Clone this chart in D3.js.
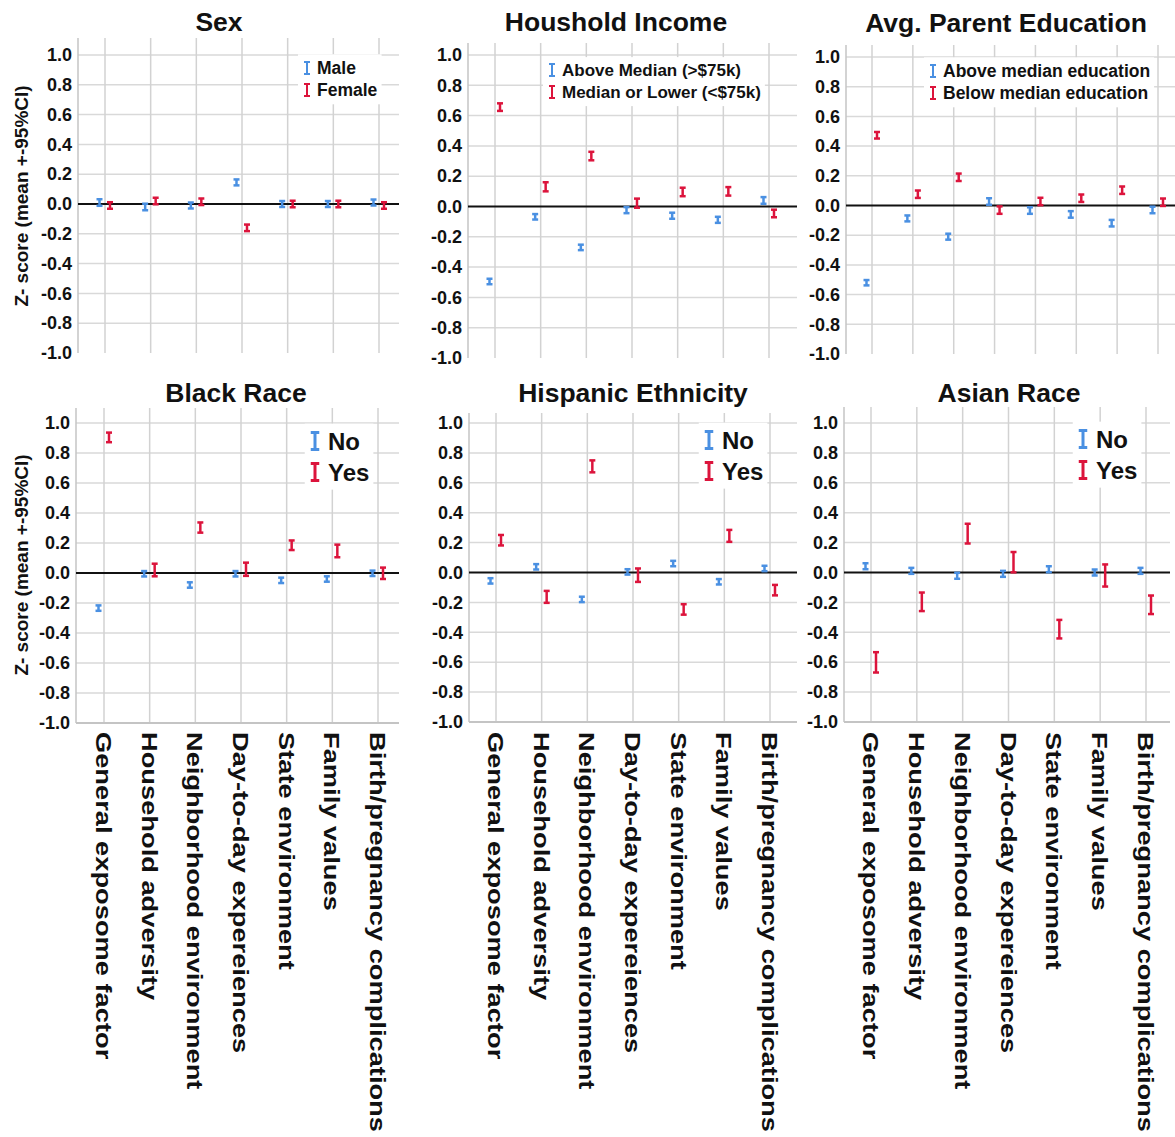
<!DOCTYPE html>
<html>
<head>
<meta charset="utf-8">
<script src="https://cdn.jsdelivr.net/npm/d3@7"></script>
<style>
  body { margin: 0; background: #fff; }
  text { font-family: "Liberation Sans", Arial, sans-serif; }
</style>
</head>
<body>
<svg id="chart" width="1175" height="1137"></svg>
<script>
// categories on the x axis (only the bottom row shows them)
const categories = [
  "General exposome factor",
  "Household adversity",
  "Neighborhood environment",
  "Day-to-day expereiences",
  "State environment",
  "Family values",
  "Birth/pregnancy complications"
];
// the parent education panel has one extra pair of bars
const eduCategories = categories.concat(["Additional factor"]);
const yTicks = [-1.0, -0.8, -0.6, -0.4, -0.2, 0.0, 0.2, 0.4, 0.6, 0.8, 1.0];

// Sex
const sexMale = [0.01, -0.02, -0.01, 0.145, 0.0, 0.0, 0.01];
const sexMaleCI = [0.022, 0.022, 0.02, 0.02, 0.02, 0.02, 0.02];
const sexFemale = [-0.01, 0.02, 0.015, -0.16, 0.0, 0.0, -0.01];
const sexFemaleCI = [0.022, 0.022, 0.022, 0.022, 0.022, 0.022, 0.022];

// Household income
const incAbove = [-0.495, -0.068, -0.27, -0.024, -0.061, -0.088, 0.04];
const incAboveCI = [0.018, 0.018, 0.018, 0.02, 0.02, 0.02, 0.022];
const incBelow = [0.656, 0.13, 0.333, 0.022, 0.096, 0.1, -0.046];
const incBelowCI = [0.025, 0.03, 0.028, 0.03, 0.028, 0.028, 0.025];

// Avg. parent education
const eduAbove = [-0.52, -0.087, -0.21, 0.027, -0.034, -0.06, -0.119, -0.03];
const eduAboveCI = [0.018, 0.02, 0.02, 0.022, 0.022, 0.022, 0.022, 0.022];
const eduBelow = [0.473, 0.076, 0.19, -0.031, 0.027, 0.049, 0.103, 0.022];
const eduBelowCI = [0.022, 0.025, 0.025, 0.025, 0.025, 0.025, 0.025, 0.025];

// Black race
const blackNo = [-0.234, -0.005, -0.08, -0.005, -0.049, -0.04, -0.002];
const blackNoCI = [0.018, 0.018, 0.018, 0.018, 0.018, 0.018, 0.018];
const blackYes = [0.904, 0.02, 0.303, 0.025, 0.185, 0.147, -0.002];
const blackYesCI = [0.032, 0.042, 0.034, 0.044, 0.032, 0.042, 0.038];

// Hispanic ethnicity
const hispNo = [-0.056, 0.038, -0.18, 0.004, 0.06, -0.062, 0.027];
const hispNoCI = [0.018, 0.018, 0.018, 0.018, 0.018, 0.018, 0.018];
const hispYes = [0.216, -0.163, 0.71, -0.018, -0.247, 0.245, -0.118];
const hispYesCI = [0.035, 0.04, 0.04, 0.045, 0.035, 0.04, 0.035];

// Asian race
const asianNo = [0.042, 0.011, -0.022, -0.009, 0.022, 0.0, 0.011];
const asianNoCI = [0.02, 0.02, 0.02, 0.02, 0.02, 0.02, 0.02];
const asianYes = [-0.601, -0.196, 0.26, 0.069, -0.379, -0.02, -0.216];
const asianYesCI = [0.068, 0.062, 0.066, 0.068, 0.062, 0.074, 0.062];

const colors = ["#4a90e2", "#dc143c"];
const offsets = [-5.5, 5];

const panels = [
  {
    title: "Sex", cats: categories,
    groups: [
      { label: "Male", mean: sexMale, ci: sexMaleCI },
      { label: "Female", mean: sexFemale, ci: sexFemaleCI }
    ],
    left: 78, right: 399, top: 38, yTop: 55, yBottom: 353, first: 105, last: 379,
    titleX: 219, titleY: 31, legend: { x: 307, y: 68, dy: 22, size: 17.5, sym: 12 }, bottomRow: false
  },
  {
    title: "Houshold Income", cats: categories,
    groups: [
      { label: "Above Median (>$75k)", mean: incAbove, ci: incAboveCI },
      { label: "Median or Lower (<$75k)", mean: incBelow, ci: incBelowCI }
    ],
    left: 468, right: 797, top: 43, yTop: 55, yBottom: 358, first: 495, last: 769,
    titleX: 616, titleY: 31, legend: { x: 552, y: 70, dy: 22, size: 17, sym: 12 }, bottomRow: false
  },
  {
    title: "Avg. Parent Education", cats: eduCategories,
    groups: [
      { label: "Above median education", mean: eduAbove, ci: eduAboveCI },
      { label: "Below median education", mean: eduBelow, ci: eduBelowCI }
    ],
    left: 846, right: 1175, top: 45, yTop: 57, yBottom: 354, first: 872, last: 1158,
    titleX: 1006, titleY: 32, legend: { x: 933, y: 71, dy: 22, size: 17.5, sym: 12 }, bottomRow: false
  },
  {
    title: "Black Race", cats: categories,
    groups: [
      { label: "No", mean: blackNo, ci: blackNoCI },
      { label: "Yes", mean: blackYes, ci: blackYesCI }
    ],
    left: 76, right: 399, top: 408, yTop: 423, yBottom: 723, first: 104, last: 378,
    titleX: 236, titleY: 402, legend: { x: 315, y: 441, dy: 31, size: 24, sym: 17 }, bottomRow: true
  },
  {
    title: "Hispanic Ethnicity", cats: categories,
    groups: [
      { label: "No", mean: hispNo, ci: hispNoCI },
      { label: "Yes", mean: hispYes, ci: hispYesCI }
    ],
    left: 469, right: 797, top: 413, yTop: 423, yBottom: 722, first: 496, last: 770,
    titleX: 633, titleY: 402, legend: { x: 709, y: 440, dy: 31, size: 24, sym: 17 }, bottomRow: true
  },
  {
    title: "Asian Race", cats: categories,
    groups: [
      { label: "No", mean: asianNo, ci: asianNoCI },
      { label: "Yes", mean: asianYes, ci: asianYesCI }
    ],
    left: 844, right: 1170, top: 407, yTop: 423, yBottom: 722, first: 871, last: 1146,
    titleX: 1009, titleY: 402, legend: { x: 1083, y: 439, dy: 31, size: 24, sym: 17 }, bottomRow: true
  }
];

const svg = d3.select("#chart");

panels.forEach((p) => {
  const g = svg.append("g");
  const y = d3.scaleLinear().domain([-1, 1]).range([p.yBottom, p.yTop]);
  const x = d3.scalePoint().domain(p.cats).range([p.first, p.last]);

  // horizontal grid
  g.append("g")
    .selectAll("line")
    .data(yTicks.filter((t) => t > -1 && t !== 0))
    .join("line")
    .attr("x1", p.left)
    .attr("x2", p.right)
    .attr("y1", (d) => y(d))
    .attr("y2", (d) => y(d))
    .attr("stroke", "#d9d9d9")
    .attr("stroke-width", 1.5);

  // vertical grid
  g.append("g")
    .selectAll("line")
    .data(p.cats)
    .join("line")
    .attr("x1", (d) => x(d))
    .attr("x2", (d) => x(d))
    .attr("y1", p.top)
    .attr("y2", y(-1))
    .attr("stroke", "#d2d2d2")
    .attr("stroke-width", 1.5);

  // y axis line
  g.append("line")
    .attr("x1", p.left).attr("x2", p.left)
    .attr("y1", p.top).attr("y2", y(-1))
    .attr("stroke", "#c4c4c4").attr("stroke-width", 1.5);

  if (p.bottomRow) {
    g.append("line")
      .attr("x1", p.left).attr("x2", p.right)
      .attr("y1", y(-1)).attr("y2", y(-1))
      .attr("stroke", "#c4c4c4").attr("stroke-width", 2);
  }

  const yAxis = d3.axisLeft(y)
    .tickValues(yTicks)
    .tickFormat((d) => d.toFixed(1))
    .tickSize(0)
    .tickPadding(6);
  g.append("g")
    .attr("transform", `translate(${p.left},0)`)
    .call(yAxis)
    .call((a) => a.select(".domain").remove())
    .selectAll("text")
    .style("font-size", "18px")
    .style("font-weight", "bold")
    .attr("fill", "#111");

  // zero line
  g.append("line")
    .attr("x1", p.left).attr("x2", p.right)
    .attr("y1", y(0)).attr("y2", y(0))
    .attr("stroke", "#111").attr("stroke-width", 2);

  // error bars
  p.groups.forEach((grp, gi) => {
    const bars = g.append("g")
      .selectAll("g")
      .data(p.cats.map((c, i) => ({ c: c, m: grp.mean[i], e: grp.ci[i] })))
      .join("g")
      .attr("transform", (d) => `translate(${x(d.c) + offsets[gi]},0)`)
      .attr("stroke", colors[gi])
      .attr("stroke-width", 2.5);
    bars.append("line")
      .attr("y1", (d) => y(d.m + d.e))
      .attr("y2", (d) => y(d.m - d.e));
    bars.append("line")
      .attr("x1", -3).attr("x2", 3)
      .attr("y1", (d) => y(d.m + d.e))
      .attr("y2", (d) => y(d.m + d.e));
    bars.append("line")
      .attr("x1", -3).attr("x2", 3)
      .attr("y1", (d) => y(d.m - d.e))
      .attr("y2", (d) => y(d.m - d.e));
  });

  // legend
  const L = p.legend;
  const leg = g.append("g");
  const bg = leg.append("rect").attr("fill", "#fff");
  const items = leg.selectAll("g")
    .data(p.groups)
    .join("g")
    .attr("transform", (d, i) => `translate(${L.x},${L.y + i * L.dy})`);
  items.append("path")
    .attr("d", `M-${L.sym * 0.25},-${L.sym / 2}h${L.sym * 0.5}M0,-${L.sym / 2}v${L.sym}M-${L.sym * 0.25},${L.sym / 2}h${L.sym * 0.5}`)
    .attr("stroke", (d, i) => colors[i])
    .attr("stroke-width", L.size > 20 ? 3 : 2)
    .attr("fill", "none");
  items.append("text")
    .attr("x", L.size > 20 ? 13 : 10)
    .attr("dy", "0.36em")
    .style("font-size", L.size + "px")
    .style("font-weight", "bold")
    .attr("fill", "#111")
    .text((d) => d.label);
  const bb = leg.node().getBBox();
  bg.attr("x", bb.x - 6).attr("y", bb.y - 4)
    .attr("width", bb.width + 10).attr("height", bb.height + 8);

  // title
  g.append("text")
    .attr("x", p.titleX)
    .attr("y", p.titleY)
    .attr("text-anchor", "middle")
    .style("font-size", "26.5px")
    .style("font-weight", "bold")
    .attr("fill", "#111")
    .text(p.title);

  // x labels, only bottom row
  if (p.bottomRow) {
    g.append("g")
      .selectAll("text")
      .data(p.cats)
      .join("text")
      .attr("transform", (d) => `translate(${x(d)},732) rotate(90) scale(1.24,1)`)
      .attr("dy", "0.36em")
      .style("font-size", "22px")
      .style("font-weight", "bold")
      .attr("fill", "#111")
      .text((d) => d);
  }
});

// y axis titles on the left of each row
[196, 565].forEach((cy) => {
  svg.append("text")
    .attr("transform", `translate(21,${cy}) rotate(-90)`)
    .attr("text-anchor", "middle")
    .attr("dy", "0.36em")
    .style("font-size", "19px")
    .style("font-weight", "bold")
    .attr("fill", "#111")
    .text("Z- score (mean +-95%CI)");
});
</script>
</body>
</html>
